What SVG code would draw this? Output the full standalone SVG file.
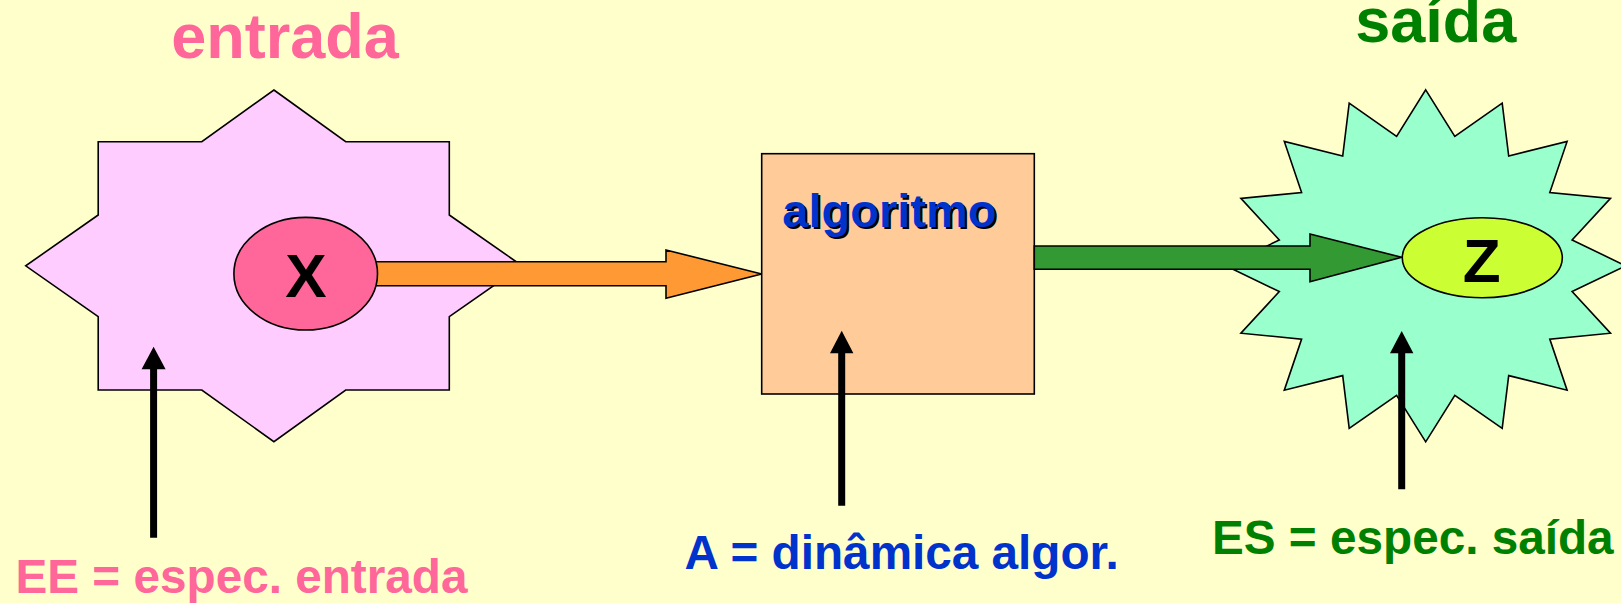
<svg xmlns="http://www.w3.org/2000/svg" width="1621" height="603" viewBox="0 0 1621 603">
<defs>
<style>
.shape{stroke:#000;stroke-width:1.6;stroke-linejoin:miter}
.t{font-family:"Liberation Sans",Arial,sans-serif;font-weight:bold}
.lbl{font-size:47.7px}
.blk{stroke:#000;stroke-width:7;fill:none}
.head{fill:#000}
</style>
</defs>
<rect width="1621" height="603" fill="#FFFFCC"/>
<text class="t" x="285" y="58.3" font-size="63" fill="#FF6699" text-anchor="middle">entrada</text>
<text class="t" x="1435.7" y="42.3" font-size="63" fill="#008000" text-anchor="middle">saída</text>
<g id="entrada">
<polygon class="shape" fill="#FFCCFF" points="273.9,90 345.7,141.7 449.3,141.7 449.3,215 522.1,265.8 449.3,316.7 449.3,390 345.7,390 273.9,441.7 201.8,390 98.2,390 98.2,316.7 25.7,265.8 98.2,215 98.2,141.7 201.8,141.7"/>
</g>
<g id="saida">
<polygon class="shape" fill="#99FFCC" points="1425.7,89.8 1454.8,136.3 1502.2,103.2 1508.7,156 1567.1,141.4 1549.8,192.5 1610.5,198.4 1572.1,240 1625.7,265.8 1572.1,291.6 1610.5,333.2 1549.8,339.1 1567.1,390.2 1508.7,375.6 1502.2,428.4 1454.8,395.3 1425.7,441.8 1396.6,395.3 1349.2,428.4 1342.7,375.6 1284.3,390.2 1301.6,339.1 1240.9,333.2 1279.3,291.6 1225.7,265.8 1279.3,240 1240.9,198.4 1301.6,192.5 1284.3,141.4 1342.7,156 1349.2,103.2 1396.6,136.3"/>
</g>
<g id="algoritmo">
<rect class="shape" x="761.7" y="153.7" width="272.6" height="240.3" fill="#FFCC99" stroke-width="2.2"/>
<text class="t" x="784.3" y="229.3" font-size="47" fill="#000">algoritmo</text>
<text class="t" x="782.3" y="227.3" font-size="47" fill="#0033CC">algoritmo</text>
</g>
<g id="connectors">
<polygon class="shape" fill="#FF9933" points="370,261.7 666,261.7 666,250 761.7,274 666,298.3 666,285.7 370,285.7"/>
<polygon class="shape" fill="#339933" points="1034.3,246 1310,246 1310,234 1401.7,257.3 1310,281.7 1310,269.3 1034.3,269.3"/>
<line class="blk" x1="153.6" y1="365" x2="153.6" y2="537.7"/>
<polygon class="head" points="153.6,346.7 165.6,369.3 141.6,369.3"/>
<line class="blk" x1="841.7" y1="349" x2="841.7" y2="505.7"/>
<polygon class="head" points="841.7,330.7 853.4,353.3 830,353.3"/>
<line class="blk" x1="1401.7" y1="349" x2="1401.7" y2="489.3"/>
<polygon class="head" points="1401.7,331 1413.4,353.3 1390,353.3"/>
</g>
<g id="x">
<ellipse class="shape" cx="305.7" cy="273.7" rx="71.8" ry="56.3" fill="#FF6699"/>
<text class="t" x="306" y="296.7" font-size="62" fill="#000" text-anchor="middle">X</text>
</g>
<g id="z">
<ellipse class="shape" cx="1482.3" cy="257.7" rx="80" ry="40" fill="#CCFF33"/>
<text class="t" x="1481.7" y="281.7" font-size="62" fill="#000" text-anchor="middle">Z</text>
</g>
<g id="labels">
<text class="t lbl" x="15.5" y="593.3" fill="#FF6699">EE = espec. entrada</text>
<text class="t lbl" x="684.6" y="569.3" fill="#0033CC">A = dinâmica algor.</text>
<text class="t lbl" x="1212" y="554" fill="#008000">ES = espec. saída</text>
</g>
</svg>
